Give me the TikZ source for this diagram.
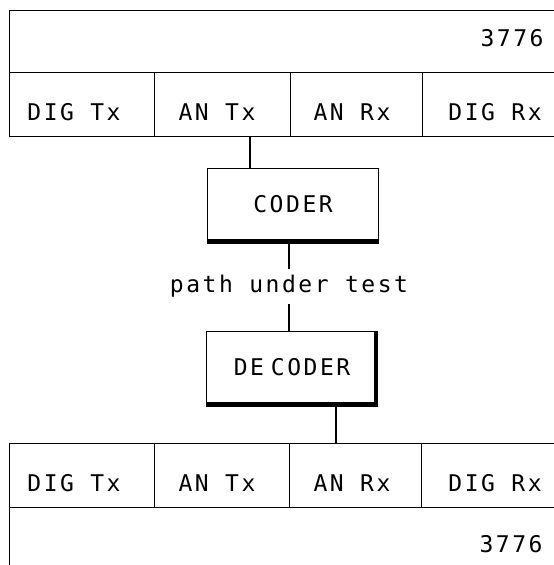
\documentclass[tikz,border=0pt]{standalone}
\usepackage{fontspec}
\setmonofont[LetterSpace=11]{DejaVu Sans Mono}
\usetikzlibrary{calc}
\tikzset{
  cell/.style={draw, rectangle, inner sep=0pt, line width=1.1pt, anchor=north west},
  lbl/.style={font=\ttfamily\fontsize{23}{27}\selectfont, inner sep=0pt},
  unit/.style={draw, rectangle, inner sep=0pt, line width=1.1pt, anchor=north west,
               font=\ttfamily\fontsize{23}{27}\selectfont},
  wire/.style={line width=1.1pt},
  shadow/.style={line width=4.5pt, line cap=butt}
}
\begin{document}
\begin{tikzpicture}[x=1pt,y=-1pt]
\useasboundingbox (0,0) rectangle (554,565);
\begin{scope}
\clip (0,0) rectangle (554,565);
% top unit
\node[cell, minimum width=570pt, minimum height=62pt] (top) at (9,10) {};
\node[cell, minimum width=145pt, minimum height=64pt] (tdigtx) at (9,72) {};
\node[cell, minimum width=136pt, minimum height=64pt] (tantx) at (154,72) {};
\node[cell, minimum width=132pt, minimum height=64pt] (tanrx) at (290,72) {};
\node[cell, minimum width=148pt, minimum height=64pt] (tdigrx) at (422,72) {};
% bottom unit
\node[cell, minimum width=145pt, minimum height=64pt] (bdigtx) at (9,443) {};
\node[cell, minimum width=135pt, minimum height=64pt] (bantx) at (154,443) {};
\node[cell, minimum width=132pt, minimum height=64pt] (banrx) at (289,443) {};
\node[cell, minimum width=149pt, minimum height=64pt] (bdigrx) at (421,443) {};
\node[cell, minimum width=570pt, minimum height=80pt] (bot) at (9,507) {};
\end{scope}
% labels
\node[lbl] (t3776) at (512,38) {3776};
\node[lbl] (l1) at (74,112) {DIG Tx};
\node[lbl] (l2) at (217,112) {AN Tx};
\node[lbl] (l3) at (352,112) {AN Rx};
\node[lbl] (l4) at (495,112) {DIG Rx};
\node[lbl] (m1) at (74,483) {DIG Tx};
\node[lbl] (m2) at (217,483) {AN Tx};
\node[lbl] (m3) at (352,483) {AN Rx};
\node[lbl] (m4) at (495,483) {DIG Rx};
\node[lbl] (b3776) at (511,544) {3776};
% coder / decoder
\node[unit, minimum width=171pt, minimum height=71pt] (coder) at (207,168) {CODER};
\draw[shadow] ([yshift=-2pt]coder.south west) -- ([yshift=-2pt]coder.south east);
\node[lbl, minimum height=35pt] (path) at (289,286.5) {path under test};
\node[unit, minimum width=171pt, minimum height=71pt] (decoder) at (206,331) {DE\hspace{0.3em}CODER};
\draw[shadow] ([xshift=-2pt]decoder.north east) -- ([xshift=-2pt,yshift=-2pt]decoder.south east)
  -- ([yshift=-2pt]decoder.south west);
% connectors
\coordinate (c1) at ([xshift=43pt]coder.north west);
\draw[wire] (c1) -- (c1 |- tantx.south);
\draw[wire] (coder.south -| path.north) -- (path.north);
\draw[wire] (path.south) -- (path.south |- decoder.north);
\coordinate (c2) at ([xshift=130pt]decoder.south west);
\draw[wire] (c2) -- (c2 |- banrx.north);
\end{tikzpicture}
\end{document}
